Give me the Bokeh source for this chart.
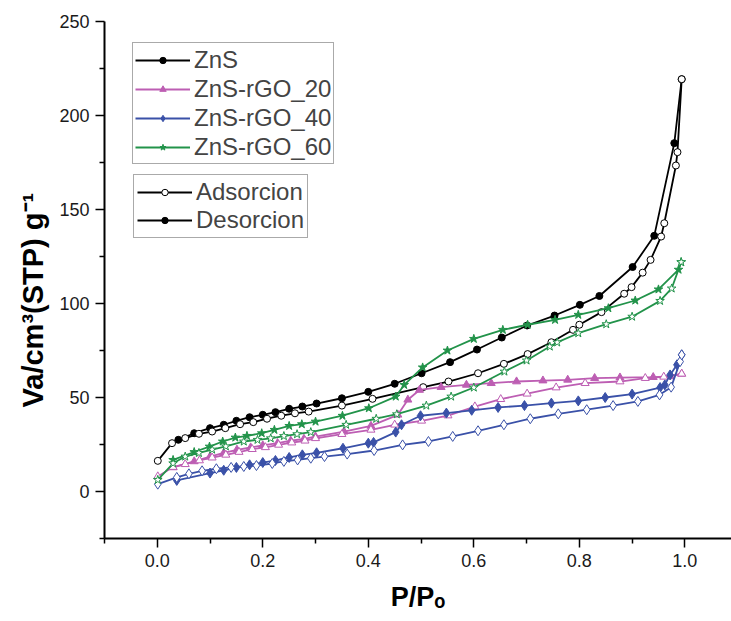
from bokeh.plotting import figure
from bokeh.models import Range1d, FixedTicker, Legend, LegendItem, CustomJSTickFormatter
from bokeh.embed import file_html
from bokeh.resources import INLINE

# ---------------- data ----------------
zns_ads_x = [0.001, 0.028, 0.053, 0.079, 0.104, 0.129, 0.157, 0.182, 0.208, 0.235, 0.261, 0.287, 0.35, 0.408,
             0.504, 0.552, 0.608, 0.657, 0.702, 0.747, 0.788, 0.800, 0.842, 0.885, 0.899, 0.920, 0.935, 0.955,
             0.961, 0.983, 0.986, 0.994]
zns_ads_y = [16.3, 25.7, 28.4, 30.7, 31.9, 33.7, 35.8, 36.9, 38.7, 40.3, 41.6, 42.5, 45.7, 49.3,
             55.5, 58.5, 62.9, 67.9, 73.1, 79.4, 86.0, 88.7, 95.4, 105.2, 108.7, 116.4, 123.2, 135.6,
             142.7, 173.4, 180.5, 219.3]
zns_des_x = [0.994, 0.980, 0.942, 0.901, 0.838, 0.801, 0.753, 0.701, 0.653, 0.606, 0.555, 0.501, 0.450, 0.400,
             0.350, 0.302, 0.275, 0.250, 0.224, 0.200, 0.175, 0.150, 0.126, 0.100, 0.070, 0.040]
zns_des_y = [219.3, 185.3, 136.0, 119.4, 104.0, 99.3, 93.6, 88.3, 81.9, 75.5, 68.8, 62.9, 57.3, 53.0,
             49.6, 46.8, 45.2, 44.0, 42.2, 40.8, 39.5, 37.6, 35.5, 33.7, 31.0, 27.5]

r20_ads_x = [0.001, 0.030, 0.053, 0.080, 0.104, 0.130, 0.155, 0.180, 0.205, 0.230, 0.255, 0.280, 0.300, 0.350,
             0.405, 0.450, 0.501, 0.551, 0.602, 0.651, 0.701, 0.756, 0.811, 0.877, 0.925, 0.960, 0.994]
r20_ads_y = [8.0, 13.0, 14.5, 16.5, 18.0, 19.5, 21.0, 22.5, 23.5, 24.8, 26.0, 27.0, 28.3, 30.5,
             32.8, 35.5, 37.6, 40.4, 45.2, 49.1, 52.0, 55.3, 57.6, 58.5, 60.3, 61.0, 62.6]
r20_des_x = [0.994, 0.972, 0.940, 0.877, 0.829, 0.778, 0.731, 0.681, 0.633, 0.586, 0.538, 0.497, 0.475, 0.456,
             0.405, 0.354, 0.300, 0.278, 0.253, 0.228, 0.200, 0.177, 0.151, 0.126, 0.100, 0.070, 0.030]
r20_des_y = [62.6, 61.2, 60.8, 60.6, 60.3, 59.4, 59.0, 58.5, 57.6, 56.7, 55.5, 54.0, 48.8, 40.8,
             34.9, 31.9, 29.2, 28.0, 27.0, 25.7, 24.5, 23.4, 22.2, 20.5, 18.6, 16.0, 12.8]

r40_ads_x = [0.001, 0.037, 0.060, 0.085, 0.112, 0.140, 0.164, 0.188, 0.218, 0.240, 0.266, 0.291, 0.317, 0.360,
             0.411, 0.465, 0.514, 0.560, 0.608, 0.657, 0.707, 0.760, 0.814, 0.864, 0.911, 0.952, 0.974, 0.991, 0.994]
r40_ads_y = [3.9, 7.5, 9.4, 11.0, 12.1, 12.8, 13.3, 13.8, 14.9, 16.0, 16.8, 17.7, 18.6, 19.9,
             21.8, 24.8, 26.6, 29.3, 32.3, 35.5, 38.7, 41.3, 43.5, 45.7, 47.9, 51.4, 55.5, 69.1, 72.7]
r40_des_x = [0.994, 0.985, 0.972, 0.962, 0.953, 0.900, 0.849, 0.798, 0.747, 0.696, 0.646, 0.596, 0.548, 0.499,
             0.463, 0.452, 0.410, 0.400, 0.352, 0.302, 0.275, 0.250, 0.224, 0.200, 0.175, 0.150, 0.126, 0.100, 0.037]
r40_des_y = [72.7, 67.4, 62.0, 56.7, 55.3, 51.8, 50.0, 48.2, 47.0, 45.7, 44.7, 43.2, 41.7, 40.3,
             35.5, 31.6, 26.1, 25.7, 23.0, 20.6, 19.5, 18.1, 16.5, 15.4, 14.2, 12.8, 11.3, 9.8, 5.9]

r60_ads_x = [0.001, 0.030, 0.053, 0.079, 0.104, 0.130, 0.164, 0.190, 0.215, 0.240, 0.265, 0.291, 0.358, 0.415,
             0.454, 0.510, 0.557, 0.600, 0.658, 0.700, 0.744, 0.758, 0.798, 0.851, 0.900, 0.953, 0.975, 0.993]
r60_ads_y = [6.2, 15.0, 18.6, 20.5, 22.3, 24.0, 26.6, 27.5, 28.3, 29.5, 30.5, 31.6, 35.5, 38.7,
             41.1, 45.7, 50.5, 55.3, 63.8, 69.7, 77.1, 79.3, 84.2, 89.0, 93.0, 101.4, 108.0, 122.0]
r60_des_x = [0.993, 0.988, 0.950, 0.906, 0.855, 0.798, 0.754, 0.702, 0.655, 0.600, 0.550, 0.503, 0.468, 0.452,
             0.401, 0.351, 0.300, 0.274, 0.250, 0.222, 0.198, 0.170, 0.148, 0.124, 0.099, 0.070, 0.030]
r60_des_y = [122.0, 118.0, 107.5, 101.6, 97.5, 94.0, 91.3, 88.7, 86.0, 81.2, 75.0, 66.0, 56.7, 50.5,
             44.3, 40.3, 37.2, 35.8, 34.9, 32.8, 31.0, 29.6, 28.7, 26.6, 23.9, 21.0, 16.8]

series_names = ["ZnS", "ZnS-rGO_20", "ZnS-rGO_40", "ZnS-rGO_60"]
branch_names = ["Adsorcion", "Desorcion"]
x_title = "P/P\u2092"
y_title = "Va/cm\u00b3(STP) g\u207b\u00b9"
x_ticks = [0.0, 0.2, 0.4, 0.6, 0.8, 1.0]
x_minor = [-0.1, 0.1, 0.3, 0.5, 0.7, 0.9]
y_ticks = [0, 50, 100, 150, 200, 250]
y_minor = [-25, 25, 75, 125, 175, 225]

# ---------------- figure ----------------
FONT = "Liberation Sans"
p = figure(width=731, height=621, output_backend="svg", toolbar_location=None,
           x_range=Range1d(-0.1, 1.0884), y_range=Range1d(-25, 250),
           min_border_left=104, min_border_right=0, min_border_top=21, min_border_bottom=83)
p.outline_line_color = None
p.grid.visible = False
p.background_fill_color = "white"

p.xaxis.ticker = FixedTicker(ticks=x_ticks, minor_ticks=x_minor)
p.yaxis.ticker = FixedTicker(ticks=y_ticks, minor_ticks=y_minor)
p.xaxis.formatter = CustomJSTickFormatter(code="return tick.toFixed(1);")
for ax in (p.xaxis, p.yaxis):
    ax.axis_line_width = 2
    ax.axis_line_color = "black"
    ax.major_tick_line_width = 1.5
    ax.minor_tick_line_width = 1.5
    ax.major_tick_line_color = "black"
    ax.minor_tick_line_color = "black"
    ax.major_tick_in = 0
    ax.minor_tick_in = 0
    ax.major_tick_out = 9
    ax.minor_tick_out = 5
    ax.major_label_text_font = FONT
    ax.major_label_text_font_size = "18px"
    ax.major_label_text_color = "#1a1a1a"
    ax.major_label_standoff = 6
    ax.axis_label_text_font = FONT
    ax.axis_label_text_font_style = "bold"
    ax.axis_label_text_color = "black"
p.xaxis.axis_label = x_title
p.yaxis.axis_label = y_title + "\u00a0" * 5
p.xaxis.axis_label_text_font_size = "27px"
p.yaxis.axis_label_text_font_size = "29px"
p.xaxis.axis_label_standoff = 12
p.yaxis.axis_label_standoff = 7

specs = [
    (zns_ads_x, zns_ads_y, zns_des_x, zns_des_y, "black", "circle", 7),
    (r20_ads_x, r20_ads_y, r20_des_x, r20_des_y, "#BD5EB3", "triangle", 8),
    (r40_ads_x, r40_ads_y, r40_des_x, r40_des_y, "#3A51A8", "diamond", 10),
    (r60_ads_x, r60_ads_y, r60_des_x, r60_des_y, "#22934A", "star", 9),
]
legend_main = []
zns_refs = {}
for i, (ax_, ay_, dx_, dy_, col, mk, sz) in enumerate(specs):
    ld = p.line(dx_, dy_, line_color=col, line_width=1.8)
    sd = p.scatter(dx_, dy_, marker=mk, size=sz, fill_color=col, line_color=col, line_width=1)
    la = p.line(ax_, ay_, line_color=col, line_width=1.8)
    sa = p.scatter(ax_, ay_, marker=mk, size=sz, fill_color="white", line_color=col, line_width=1)
    legend_main.append(LegendItem(label=series_names[i], renderers=[ld, sd]))
    if i == 0:
        zns_refs = {"ads": [la, sa], "des": [ld, sd]}


def style_legend(lg, lh):
    lg.label_text_font = FONT
    lg.label_text_font_size = "24px"
    lg.label_height = lh
    lg.glyph_height = 16
    lg.glyph_width = 55
    lg.spacing = 0
    lg.padding = 2
    lg.margin = 0
    lg.label_standoff = 4
    lg.border_line_color = "#555555"
    lg.border_line_width = 1.5
    lg.background_fill_color = "white"
    lg.background_fill_alpha = 1.0


leg1 = Legend(items=legend_main, location=(28, 374))
style_legend(leg1, 29)
leg2 = Legend(items=[LegendItem(label=branch_names[0], renderers=zns_refs["ads"]),
                     LegendItem(label=branch_names[1], renderers=zns_refs["des"])],
              location=(29, 300))
style_legend(leg2, 28)
leg2.padding = 3
p.add_layout(leg1, "center")
p.add_layout(leg2, "center")

open("out.html", "w").write(file_html(p, INLINE))
